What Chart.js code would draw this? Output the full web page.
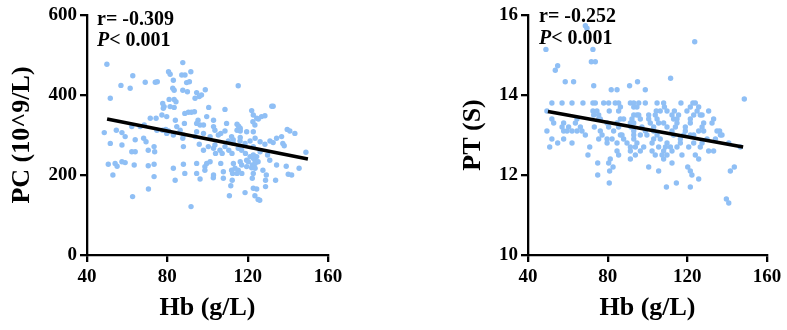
<!DOCTYPE html>
<html><head><meta charset="utf-8">
<script src="https://cdn.jsdelivr.net/npm/chart.js@4/dist/chart.umd.min.js"></script>
<style>
html,body{margin:0;padding:0;background:#fff;}
#wrap{position:relative;width:787px;height:330px;overflow:hidden;background:#fff}
canvas{position:absolute;top:0}
</style></head><body>
<div id="wrap">
<canvas id="c1" width="390" height="330" style="left:0"></canvas>
<canvas id="c2" width="387" height="330" style="left:400px"></canvas>
</div>
<script>
// ---------- data ----------
const xTitle = 'Hb (g/L)';
const xTicks = [40, 80, 120, 160];
const pcTitle = 'PC (10^9/L)';
const pcTicks = [0, 200, 400, 600];
const ptTitle = 'PT (S)';
const ptTicks = [10, 12, 14, 16];
const pcStats = ['r= -0.309', '< 0.001'];
const ptStats = ['r= -0.252', '< 0.001'];

// Hb (g/L) vs PC (10^9/L)
const pcPoints = [
[49.9,477],[87.7,481],[80.6,458],[81.4,452],[87.2,450],[88.8,450],[91.7,458],[62.8,448],[83,437],[69,432],
[74,432],[75,433],[91,433],[89.6,431],[56.9,424],[61.5,417],[82.7,417],[83.4,412],[87.7,412],[115.3,423],
[98.9,413],[90,408],[94.6,406],[95.9,396],[93.8,392],[97,400],[51.6,392],[80.9,389],[83.4,389],[77.7,379],
[78.4,371],[81.4,371],[83.4,369],[84.3,383],[78,367],[100.6,369],[108.7,364],[122,361],[132.7,372],[132,372],
[88.7,354],[90.5,357],[92,357],[93.5,358],[77.3,350],[79.7,346],[71.5,342],[74.4,342],[84,337],[95.3,337],
[99.6,346],[103,337],[122.8,350],[124.5,342],[126.9,346],[128.6,348],[123.6,325],[88.5,329],[94.6,329],[96.3,325],
[98,325],[114.7,327],[115.5,322],[116.3,317],[109.5,329],[62.3,321],[66.5,321],[68.5,325],[84.7,321],[103,321],
[103.7,312],[114.7,312],[116.3,310],[54.6,312],[77.6,312],[79.2,314],[80.6,310],[79.7,304],[86.4,312],[94.6,308],
[98,304],[106.6,304],[108.7,310],[119.5,308],[122.8,308],[48.6,306],[57.4,306],[59,296],[68.2,292],[69.4,283],
[74.8,312],[83,300],[88,300],[87.7,292],[93.8,296],[101.3,296],[112,296],[116.3,294],[139.7,314],[141,310],
[143.5,304],[136.9,296],[51.6,279],[57.4,275],[64,288],[73.4,271],[73.7,258],[70.5,262],[62.3,258],[64,258],
[88,271],[95.9,277],[98,262],[103,267],[108.7,271],[112.9,279],[118.7,279],[122.8,271],[128.6,277],[132.7,281],
[134.4,292],[137.5,279],[138.2,273],[104,254],[107.3,254],[110.6,262],[112.2,254],[118.9,254],[122.8,250],[124.5,246],
[126.2,258],[129.9,250],[149,257],[50.6,227],[54,229],[55,222],[59,231],[57.4,233],[70.5,223],[73.4,227],
[63.5,225],[88,227],[94.6,229],[99.6,229],[98.7,221],[101.3,233],[106.6,229],[112.9,229],[116.3,233],[117,225],
[119.5,237],[122.3,225],[123.6,237],[125.2,233],[131,237],[134.4,225],[139.2,222],[52.9,200],[73.4,196],[83,217],
[94.6,204],[98.7,212],[103,200],[107.9,208],[112.5,204],[114.7,204],[117.1,204],[122.8,204],[127.6,212],[129.3,200],
[140.2,202],[141.9,200],[145.6,217],[83.9,187],[88.7,204],[96.3,190],[112.3,187],[122.3,192],[128.9,187],[133.9,187],
[70.6,165],[111.6,173],[124.5,165],[128.9,171],[118.7,156],[62.7,146],[110.9,148],[123.6,148],[125.2,139],[126,137],
[91.8,121],[125.3,340],[122.6,333],[131.1,285],[126.2,283],[123.7,292],[121.2,285],[116.2,285],[112.8,288],[110.4,285],
[105.4,300],[100.4,271],[103.7,275],[106.2,262],[115.3,267],[117,262],[121.2,246],[122.8,242],[120.3,233],[123.7,229],
[119.5,221],[122,218],[123.7,217],[113.7,217],[115.3,212],[112,212],[102.9,193],[107.9,192],[122.8,167]
];
const pcFitX = [50, 150];
const pcFitY = [340, 240];

// Hb (g/L) vs PT (S)
const ptPoints = [
[49,15.14],[72.6,15.14],[68.8,15.73],[69.6,15.67],[71.8,14.83],[73.8,14.83],[53.7,14.62],[54.9,14.73],[123.7,15.33],
[58.7,14.33],[62.9,14.33],[95,14.33],[73,14.23],[91,14.23],[111.6,14.42],[84.7,14.13],[81.8,14.13],[98.9,14.13],
[52,13.8],[57.1,13.8],[62.1,13.8],[67.6,13.8],[72.6,13.8],[73.8,13.8],[78,13.8],[80.5,13.8],[83.8,13.8],[85.5,13.8],
[91.4,13.8],[93.1,13.8],[95.6,13.8],[98.9,13.8],[104.8,13.8],[108.1,13.8],[116.8,13.8],[122.8,13.8],[124,13.8],[148.6,13.9],
[86.4,13.7],[93.1,13.7],[94.7,13.7],[108.5,13.7],[121.5,13.7],[125.7,13.7],
[49.5,13.6],[72.6,13.6],[74.6,13.6],[80.8,13.6],[85.5,13.6],[104.4,13.6],[106.4,13.6],[109.8,13.6],[113.5,13.6],[119.8,13.6],[124.9,13.6],[130.7,13.6],
[73,13.5],[75.5,13.5],[93.1,13.5],[94.7,13.5],[95.6,13.5],[100.6,13.5],[103.9,13.5],[112.3,13.5],[115.6,13.5],[123.2,13.5],[126.5,13.5],[127.4,13.5],
[52,13.4],[64.6,13.4],[75.5,13.4],[76.3,13.4],[86.4,13.4],[88,13.4],[92.2,13.4],[96.4,13.4],[100.6,13.4],[104.8,13.4],[113.1,13.4],[114.8,13.4],[121.5,13.4],[133.2,13.4],
[52.9,13.3],[57.9,13.3],[63.8,13.3],[79.7,13.3],[84.7,13.3],[91.4,13.3],[93.1,13.3],[101.4,13.3],[105.6,13.3],[108.1,13.3],[114.8,13.3],[121.5,13.3],[128.2,13.3],[132.4,13.3],
[57.1,13.2],[60.4,13.2],[66.3,13.2],[73.3,13.2],[80.5,13.2],[85.5,13.2],[91.7,13.2],[97.2,13.2],[103.1,13.2],[109.8,13.2],[114,13.2],[119,13.2],[127.4,13.2],
[49.5,13.1],[57.9,13.1],[59.6,13.1],[62.1,13.1],[64.6,13.1],[67.1,13.1],[76.3,13.1],[83,13.1],[93.1,13.1],[98.9,13.1],[103.1,13.1],[112.3,13.1],[119,13.1],[125.7,13.1],[128.2,13.1],[134.9,13.1],[136.2,13.1],
[68.8,13],[77.2,13],[86.4,13],[87.2,13],[93.1,13],[96.4,13],[99.7,13],[104.8,13],[113.1,13],[118.2,13],[121.5,13],[123.2,13],[136.6,13],[137.4,13],
[52,12.9],[57.9,12.9],[75.5,12.9],[79.7,12.9],[82.2,12.9],[88,12.9],[93.1,12.9],[103.1,12.9],[106.4,12.9],[116.5,12.9],[129.9,12.9],[134.1,12.9],
[54.9,12.8],[62.1,12.8],[79.7,12.8],[84.7,12.8],[89.7,12.8],[94.7,12.8],[102.3,12.8],[109.8,12.8],[116.5,12.8],[123.2,12.8],[127.4,12.8],[140.8,12.8],
[50.9,12.7],[71,12.7],[91.4,12.7],[93.9,12.7],[98.1,12.7],[105.6,12.7],[109,12.7],[111.5,12.7],[114.8,12.7],[120.7,12.7],[126.5,12.7],[146.6,12.7],
[84.7,12.6],[91.4,12.6],[96.4,12.6],[102.3,12.6],[108.1,12.6],[112.3,12.6],[130.7,12.6],[133.2,12.6],
[70.1,12.5],[85.5,12.5],[93.9,12.5],[103.9,12.5],[107.3,12.5],[109.8,12.5],[117.3,12.5],[124,12.5],
[81.3,12.4],[91.4,12.4],[108.1,12.4],[125.7,12.4],[75,12.3],[80.5,12.3],[112.3,12.3],
[82.7,12.2],[100.6,12.2],[120.2,12.2],[143.6,12.2],[81,12.1],[105.6,12.1],[121.5,12.1],[141.6,12.1],
[75,12],[122.3,12],[125.7,11.9],[80.8,11.8],[114.5,11.8],[109.5,11.7],[121.5,11.7],[139.6,11.4],[140.8,11.3]
];
const ptFitX = [50, 148];
const ptFitY = [13.59, 12.7];

// ---------- drawing ----------
const FAM = "'Liberation Serif','Times New Roman',serif";
const DOT = '#8FBFF5';

const notePlugin = {
  id: 'statNote',
  afterDatasetsDraw(chart, args, o) {
    const ctx = chart.ctx, a = chart.chartArea;
    ctx.save();
    ctx.fillStyle = '#000';
    ctx.textBaseline = 'alphabetic';
    ctx.textAlign = 'left';
    const x = a.left + o.dx;
    ctx.font = 'bold 20px ' + FAM;
    ctx.fillText(o.lines[0], x, a.top + o.y1);
    ctx.font = 'italic bold 20px ' + FAM;
    ctx.fillText('P', x, a.top + o.y2);
    const w = ctx.measureText('P').width;
    ctx.font = 'bold 20px ' + FAM;
    ctx.fillText(o.lines[1], x + w, a.top + o.y2);
    ctx.restore();
  }
};

function axisCommon(ticksArr, titleText, titlePad, fitFn, tickPad) {
  return {
    type: 'linear',
    min: ticksArr[0], max: ticksArr[ticksArr.length - 1],
    afterBuildTicks: s => { s.ticks = ticksArr.map(v => ({value: v})); },
    ticks: { color: '#000', font: {family: FAM, size: 19, weight: 'bold'}, padding: tickPad },
    grid: { display: true, drawOnChartArea: false, drawTicks: true, tickLength: 7,
            tickWidth: 2.3, tickColor: '#000', color: '#000', lineWidth: 2.3 },
    border: { display: true, color: '#000', width: 2.3 },
    title: { display: true, text: titleText, color: '#000',
             font: {family: FAM, size: 26, weight: 'bold'}, padding: titlePad },
    afterFit: fitFn
  };
}

function makePanel(id, pts, fitX, fitY, yTicks, yTitle, yAxisW, yTitlePad, padRight, note) {
  new Chart(document.getElementById(id), {
    type: 'scatter',
    data: {
      datasets: [
        { type: 'line', data: fitX.map((x, i) => ({x, y: fitY[i]})),
          borderColor: '#000', borderWidth: 3.6, pointRadius: 0, fill: false, order: 0 },
        { data: pts.map(p => ({x: p[0], y: p[1]})), backgroundColor: DOT,
          borderWidth: 0, pointRadius: 2.7, order: 1 }
      ]
    },
    options: {
      responsive: false, animation: false, devicePixelRatio: 1,
      layout: { padding: {top: 15, right: padRight, left: 0, bottom: 0} },
      plugins: { legend: {display: false}, tooltip: {enabled: false}, statNote: note },
      scales: {
        x: axisCommon(xTicks, xTitle, {top: 0, bottom: 6}, s => { s.height = 75; }, 4),
        y: axisCommon(yTicks, yTitle, {top: yTitlePad, bottom: 0}, s => { s.width = yAxisW; }, 3)
      }
    },
    plugins: [notePlugin]
  });
}

makePanel('c1', pcPoints, pcFitX, pcFitY, pcTicks, pcTitle, 87, 7, 62,
          {lines: pcStats, dx: 10, y1: 10, y2: 31});
makePanel('c2', ptPoints, ptFitX, ptFitY, ptTicks, ptTitle, 128, 58, 20,
          {lines: ptStats, dx: 11, y1: 7, y2: 29});
</script>
</body></html>
